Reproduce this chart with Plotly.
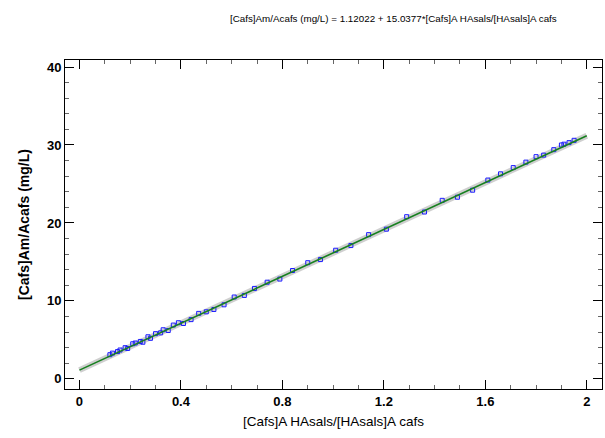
import plotly.graph_objects as go

# Fit coefficients of the simple regression model
intercept = 1.12022
slope = 15.0377

# Observed ratios
ratio_x = [0.12, 0.13, 0.15, 0.16, 0.18, 0.19, 0.21, 0.22, 0.24, 0.25, 0.27, 0.28,
           0.30, 0.32, 0.33, 0.35, 0.37, 0.39, 0.41, 0.44, 0.47, 0.50, 0.53, 0.57,
           0.61, 0.65, 0.69, 0.74, 0.79, 0.84, 0.90, 0.95, 1.01, 1.07, 1.14, 1.21,
           1.29, 1.36, 1.43, 1.49, 1.55, 1.61, 1.66, 1.71, 1.76, 1.80, 1.83, 1.87,
           1.90, 1.91, 1.93, 1.95]
conc_y = [3.1, 3.3, 3.5, 3.7, 4.0, 3.9, 4.5, 4.6, 4.8, 4.7, 5.4, 5.2,
          5.8, 5.9, 6.3, 6.2, 6.9, 7.2, 7.1, 7.6, 8.4, 8.6, 8.9, 9.5,
          10.5, 10.7, 11.6, 12.4, 12.8, 13.9, 14.9, 15.3, 16.5, 17.1, 18.5, 19.2,
          20.8, 21.4, 22.9, 23.3, 24.2, 25.5, 26.3, 27.1, 27.8, 28.5, 28.7, 29.4,
          30.0, 30.1, 30.3, 30.6]

x_ticks = [0, 0.4, 0.8, 1.2, 1.6, 2]
x_tick_text = ["0", "0.4", "0.8", "1.2", "1.6", "2"]
y_ticks = [0, 10, 20, 30, 40]

fit_x = [0.0, 2.0]
fit_y = [intercept + slope * v for v in fit_x]

font_main = "Liberation Sans Narrow, Arial Narrow, Liberation Sans, Arial, sans-serif"

fig = go.Figure()
# prediction band shown as a soft grey ribbon behind the fitted line
fig.add_trace(go.Scatter(x=fit_x, y=fit_y, mode="lines",
                         line=dict(color="rgba(160,160,160,0.5)", width=6),
                         hoverinfo="skip", showlegend=False))
fig.add_trace(go.Scatter(x=ratio_x, y=conc_y, mode="markers",
                         marker=dict(symbol="square-open", size=4, color="#1a1aff",
                                     line=dict(width=1, color="#1a1aff")),
                         showlegend=False))
fig.add_trace(go.Scatter(x=fit_x, y=fit_y, mode="lines",
                         line=dict(color="#17801f", width=1.6),
                         showlegend=False))

axis_common = dict(
    showgrid=False, zeroline=False, showline=True, linecolor="black", linewidth=1,
    mirror="ticks", ticks="inside", ticklen=9, tickwidth=1, tickcolor="black",
    tickfont=dict(family=font_main, size=13, color="black", weight="bold"),
)

fig.update_xaxes(
    range=[-0.057, 2.06], tickvals=x_ticks, ticktext=x_tick_text,
    minor=dict(ticks="inside", ticklen=4, dtick=0.1, tick0=0, tickcolor="#666", showgrid=False),
    title=dict(text="[Cafs]A HAsals/[HAsals]A cafs", standoff=8,
               font=dict(family=font_main, size=13.5, color="black")),
    **axis_common,
)
fig.update_yaxes(
    range=[-1.3, 40.9], tickvals=y_ticks,
    minor=dict(ticks="inside", ticklen=4, dtick=2, tick0=0, tickcolor="#666", showgrid=False),
    title=dict(text="[Cafs]Am/Acafs (mg/L)", standoff=14,
               font=dict(family=font_main, size=14, color="black", weight="bold")),
    **axis_common,
)

fig.add_annotation(
    text="[Cafs]Am/Acafs (mg/L) = 1.12022 + 15.0377*[Cafs]A HAsals/[HAsals]A cafs",
    xref="paper", yref="paper", x=0.611, y=1.0, xanchor="center", yanchor="bottom",
    yshift=34, showarrow=False,
    font=dict(family=font_main, size=9.8, color="black"),
)

fig.update_layout(
    width=605, height=438,
    margin=dict(l=65, r=3, t=60, b=49),
    paper_bgcolor="white", plot_bgcolor="white",
)

fig.write_html("out.html")
